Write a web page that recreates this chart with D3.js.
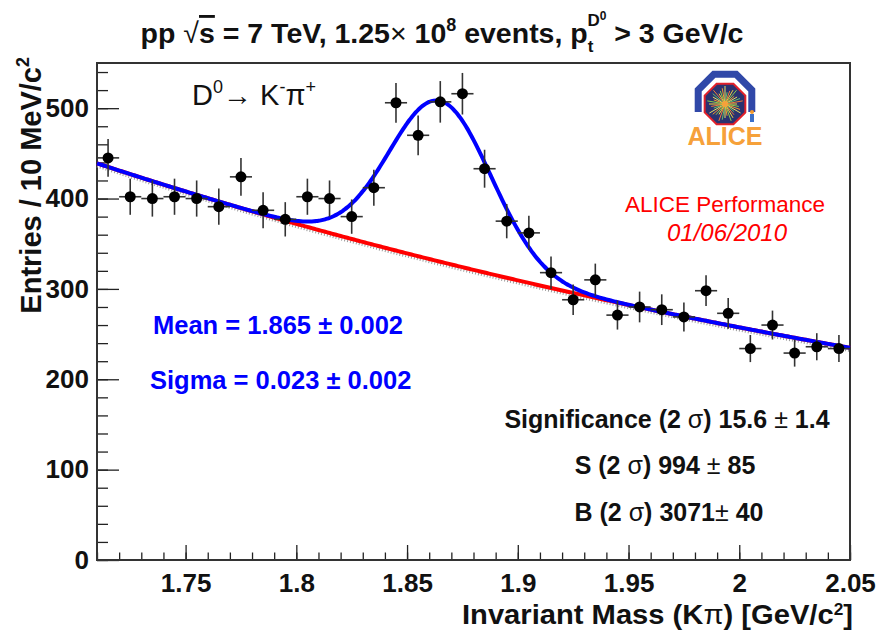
<!DOCTYPE html>
<html>
<head>
<meta charset="utf-8">
<script src="https://cdn.jsdelivr.net/npm/d3@7"></script>
<style>
  body { margin:0; background:#fff; }
  text { font-family:'Liberation Sans', Arial, Helvetica, sans-serif; }
</style>
</head>
<body>
<svg id="canvas" width="880" height="630"></svg>
<script>
// invariant mass bins (bin centres, GeV/c^2), 10 MeV wide
var massBins = [1.715,1.725,1.735,1.745,1.755,1.765,1.775,1.785,1.795,1.805,
                1.815,1.825,1.835,1.845,1.855,1.865,1.875,1.885,1.895,1.905,
                1.915,1.925,1.935,1.945,1.955,1.965,1.975,1.985,1.995,2.005,
                2.015,2.025,2.035,2.045];
var entries = [445,402,400,402,400,391,424,387,377,402,
               400,380,412,506,470,507,516,433,375,362,
               318,288,310,271,280,277,269,298,273,234,
               260,229,236,234];
var errors  = [21,20,20,20,20,20,21,20,19,20,
               20,19,20,22,22,23,23,21,19,19,
               18,17,18,16,17,17,16,17,17,15,
               16,15,15,15];
var binHalf = 0.005;

var xTicks = [1.75,1.8,1.85,1.9,1.95,2,2.05];
var xTickLabels = ["1.75","1.8","1.85","1.9","1.95","2","2.05"];
var yTicks = [0,100,200,300,400,500];

// fit: gaussian signal + exponential background
var fitMean = 1.865, fitSigma = 0.023, fitAmp = 178;
var bkgNorm = 439, bkgSlope = -1.84, bkgRef = 1.71;

var svg = d3.select("#canvas");
var L = 97, R = 850, T = 63, B = 560;

var x = d3.scaleLinear().domain([1.71,2.05]).range([L,R]);
var y = d3.scaleLinear().domain([0,550]).range([B,T]);

function bkg(m) { return bkgNorm*Math.exp(bkgSlope*(m-bkgRef)); }
function total(m) {
  var z = (m-fitMean)/fitSigma;
  return bkg(m) + fitAmp*Math.exp(-0.5*z*z);
}

// axes, ticks pointing inward like ROOT
var gx = svg.append("g").attr("transform","translate(0,"+B+")");
gx.call(d3.axisBottom(x).tickValues(d3.range(1.71,2.0501,0.01)).tickSizeInner(-7.5).tickSizeOuter(0).tickFormat(""));
var gx2 = svg.append("g").attr("transform","translate(0,"+B+")");
gx2.call(d3.axisBottom(x).tickValues(xTicks).tickSizeInner(-15).tickSizeOuter(0)
  .tickFormat(function(d,i){ return xTickLabels[i]; }));

var gy = svg.append("g").attr("transform","translate("+L+",0)");
gy.call(d3.axisLeft(y).tickValues(d3.range(0,551,20)).tickSizeInner(-11).tickSizeOuter(0).tickFormat(""));
var gy2 = svg.append("g").attr("transform","translate("+L+",0)");
gy2.call(d3.axisLeft(y).tickValues(yTicks).tickSizeInner(-22).tickSizeOuter(0).tickPadding(8));

svg.selectAll(".domain").remove();
svg.selectAll(".tick line").attr("stroke","#222").attr("stroke-width",1.3);
svg.selectAll(".tick text")
  .attr("fill","#111")
  .style("font-size","26px")
  .style("font-weight","bold")
  .style("font-family","'Liberation Sans', Arial, sans-serif");
gx2.selectAll(".tick text").attr("y",32).attr("dy",0);

svg.append("rect")
  .attr("x",L).attr("y",T).attr("width",R-L).attr("height",B-T)
  .attr("fill","none").attr("stroke","#333").attr("stroke-width",2);

// fit curves
var grid = d3.range(1.71,2.0505,0.001);
var bline = d3.line().x(function(m){ return x(m); }).y(function(m){ return y(bkg(m)); });
var tline = d3.line().x(function(m){ return x(m); }).y(function(m){ return y(total(m)); }).curve(d3.curveMonotoneX);

svg.append("path").attr("d",bline(grid))
  .attr("transform","translate(0,3)")
  .attr("fill","none").attr("stroke","#9a9a9a").attr("stroke-width",2.5)
  .attr("stroke-dasharray","1,2");
svg.append("path").attr("d",bline(grid))
  .attr("fill","none").attr("stroke","#ff0000").attr("stroke-width",4);
svg.append("path").attr("d",tline(grid))
  .attr("fill","none").attr("stroke","#0000ff").attr("stroke-width",4);

// data points with error bars
var pts = svg.append("g").selectAll("g")
  .data(massBins).enter().append("g");
pts.append("line")
  .attr("x1",function(d){ return x(d); }).attr("x2",function(d){ return x(d); })
  .attr("y1",function(d,i){ return y(entries[i]-errors[i]); })
  .attr("y2",function(d,i){ return y(entries[i]+errors[i]); })
  .attr("stroke","#333").attr("stroke-width",1.6);
pts.append("line")
  .attr("x1",function(d){ return x(d-binHalf); }).attr("x2",function(d){ return x(d+binHalf); })
  .attr("y1",function(d,i){ return y(entries[i]); })
  .attr("y2",function(d,i){ return y(entries[i]); })
  .attr("stroke","#333").attr("stroke-width",1.6);
pts.append("circle")
  .attr("cx",function(d){ return x(d); })
  .attr("cy",function(d,i){ return y(entries[i]); })
  .attr("r",5.5).attr("fill","#000");

// title
var title = svg.append("text")
  .attr("x",442).attr("y",43).attr("text-anchor","middle")
  .style("font-size","28.5px").style("font-weight","bold").attr("fill","#111");
title.append("tspan").text("pp ");
title.append("tspan").style("font-weight","normal").text("\u221A");
title.append("tspan").style("text-decoration","overline").text("s");
title.append("tspan").text(" = 7 TeV, 1.25");
title.append("tspan").style("font-weight","normal").text("\u00D7");
title.append("tspan").text(" 10");
title.append("tspan").attr("dy",-12).style("font-size","18px").text("8");
title.append("tspan").attr("dy",12).text(" events, p");
title.append("tspan").attr("dy",9).style("font-size","17px").text("t");
title.append("tspan").attr("dy",-26).attr("dx",-6).style("font-size","17px").text("D");
title.append("tspan").attr("dy",-6).style("font-size","12px").text("0");
title.append("tspan").attr("dy",23).text(" > 3 GeV/c");

// axis titles
svg.append("text")
  .attr("transform","translate(41,57) rotate(-90)")
  .attr("text-anchor","end")
  .style("font-size","29px").style("font-weight","bold").attr("fill","#111")
  .text("Entries / 10 MeV/c")
  .append("tspan").attr("dy",-12).style("font-size","18px").text("2");

var xl = svg.append("text")
  .attr("transform","translate(853,624) scale(1.08,1)")
  .attr("text-anchor","end")
  .style("font-size","27px").style("font-weight","bold").attr("fill","#111");
xl.append("tspan").text("Invariant Mass (K");
xl.append("tspan").style("font-weight","normal").text("\u03C0");
xl.append("tspan").text(") [GeV/c");
xl.append("tspan").attr("dy",-9).style("font-size","16px").text("2");
xl.append("tspan").attr("dy",9).text("]");

// decay label
var dk = svg.append("text").attr("x",192).attr("y",105)
  .style("font-size","29px").attr("fill","#111");
dk.append("tspan").text("D");
dk.append("tspan").attr("dy",-12).style("font-size","18px").text("0");
dk.append("tspan").attr("dy",12).text("\u2192 K");
dk.append("tspan").attr("dy",-12).style("font-size","18px").text("-");
dk.append("tspan").attr("dy",12).text("\u03C0");
dk.append("tspan").attr("dy",-12).style("font-size","18px").text("+");

// fit results
svg.append("text").attr("x",153).attr("y",334)
  .style("font-size","25.5px").style("font-weight","bold").attr("fill","#0000ff")
  .text("Mean = 1.865 \u00B1 0.002");
svg.append("text").attr("x",150).attr("y",389)
  .style("font-size","25.5px").style("font-weight","bold").attr("fill","#0000ff")
  .text("Sigma = 0.023 \u00B1 0.002");

var sig = [
  {x:667, y:428, a:"Significance (2 ", b:") 15.6 ", c:" 1.4"},
  {x:665, y:474, a:"S (2 ", b:") 994 ", c:" 85"},
  {x:669, y:521, a:"B (2 ", b:") 3071", c:" 40"}
];
sig.forEach(function(s) {
  var t = svg.append("text").attr("x",s.x).attr("y",s.y).attr("text-anchor","middle")
    .style("font-size","25px").style("font-weight","bold").attr("fill","#111");
  t.append("tspan").text(s.a);
  t.append("tspan").style("font-weight","normal").text("\u03C3");
  t.append("tspan").text(s.b);
  t.append("tspan").style("font-weight","normal").text("\u00B1");
  t.append("tspan").text(s.c);
});

// ALICE performance stamp
svg.append("text").attr("x",725).attr("y",212).attr("text-anchor","middle")
  .style("font-size","22.5px").attr("fill","#ff0000").text("ALICE Performance");
svg.append("text").attr("x",727).attr("y",241).attr("text-anchor","middle")
  .style("font-size","24px").style("font-style","italic").attr("fill","#ff0000").text("01/06/2010");

// ALICE logo
var logo = svg.append("g").attr("transform","translate(725,104)");
function octa(r) {
  return d3.range(8).map(function(k) {
    var a = (22.5+45*k)*Math.PI/180;
    return [r*Math.cos(a), r*Math.sin(a)];
  });
}
var o = octa(29);
logo.append("path")
  .attr("d","M"+[o[3],o[4],o[5],o[6],o[7],o[0]].map(function(p){ return p.join(","); }).join("L"))
  .attr("transform","translate(0,-3)")
  .attr("fill","none").attr("stroke","#3048a8").attr("stroke-width",7);
logo.append("polygon")
  .attr("points",octa(22).map(function(p){ return p.join(","); }).join(" "))
  .attr("fill","#2a3270").attr("stroke","#e0202a").attr("stroke-width",2);
var rayCols = ["#f2d23a","#8ccf4a","#f39a2c","#e8e060","#5fbf6a","#f07c3a"];
d3.range(36).forEach(function(k) {
  var a = k*10*Math.PI/180, r = 12 + (k % 4)*2;
  logo.append("line")
    .attr("x1",0).attr("y1",0)
    .attr("x2",r*Math.cos(a)).attr("y2",r*Math.sin(a))
    .attr("stroke",rayCols[k % rayCols.length]).attr("stroke-width",1);
});
logo.append("circle").attr("r",3).attr("fill","#f6a13a");
logo.append("rect").attr("x",25).attr("y",10).attr("width",4).attr("height",8).attr("fill","#3a6fc8");
logo.append("circle").attr("cx",27).attr("cy",8).attr("r",2).attr("fill","#f39a2c");
svg.append("text").attr("x",725).attr("y",145).attr("text-anchor","middle")
  .style("font-size","25px").style("font-weight","bold").attr("fill","#f6a13a").text("ALICE");
</script>
</body>
</html>
